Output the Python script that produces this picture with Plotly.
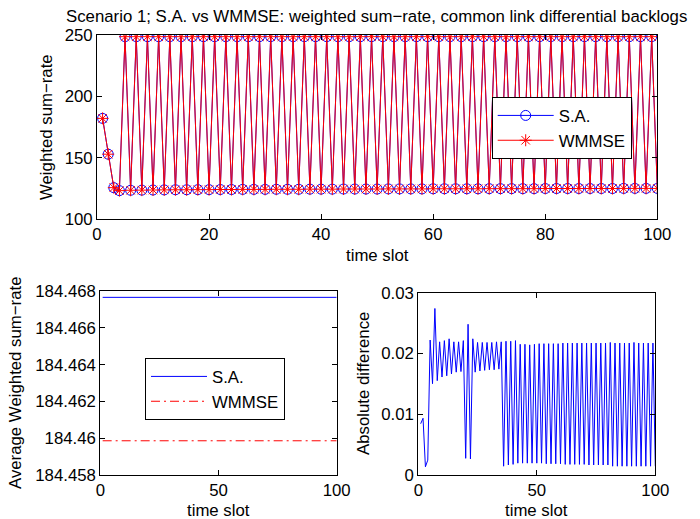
import plotly.graph_objects as go

# Time slots
slots = list(range(1, 101))

# Weighted sum-rate per time slot
sa_rate = [
    182.0, 152.9, 125.7, 123.3, 248.4, 123.6, 248.4, 123.7, 248.4, 123.8,
    248.4, 123.9, 248.4, 124.0, 248.4, 124.0, 248.4, 124.1, 248.4, 124.1,
    248.4, 124.2, 248.4, 124.2, 248.4, 124.3, 248.4, 124.3, 248.4, 124.3,
    248.4, 124.4, 248.4, 124.4, 248.4, 124.4, 248.4, 124.5, 248.4, 124.5,
    248.4, 124.5, 248.4, 124.6, 248.4, 124.6, 248.4, 124.6, 248.4, 124.6,
    248.4, 124.7, 248.4, 124.7, 248.4, 124.7, 248.4, 124.7, 248.4, 124.8,
    248.4, 124.8, 248.4, 124.8, 248.4, 124.8, 248.4, 124.8, 248.4, 124.9,
    248.4, 124.9, 248.4, 124.9, 248.4, 124.9, 248.4, 124.9, 248.4, 125.0,
    248.4, 125.0, 248.4, 125.0, 248.4, 125.0, 248.4, 125.0, 248.4, 125.0,
    248.4, 125.0, 248.4, 125.1, 248.4, 125.1, 248.4, 125.1, 248.4, 125.1,
]
wmmse_rate = [
    182.0, 152.9, 125.7, 123.3, 248.4, 123.6, 248.4, 123.7, 248.4, 123.8,
    248.4, 123.9, 248.4, 124.0, 248.4, 124.0, 248.4, 124.1, 248.4, 124.1,
    248.4, 124.2, 248.4, 124.2, 248.4, 124.3, 248.4, 124.3, 248.4, 124.3,
    248.4, 124.4, 248.4, 124.4, 248.4, 124.4, 248.4, 124.5, 248.4, 124.5,
    248.4, 124.5, 248.4, 124.6, 248.4, 124.6, 248.4, 124.6, 248.4, 124.6,
    248.4, 124.7, 248.4, 124.7, 248.4, 124.7, 248.4, 124.7, 248.4, 124.8,
    248.4, 124.8, 248.4, 124.8, 248.4, 124.8, 248.4, 124.8, 248.4, 124.9,
    248.4, 124.9, 248.4, 124.9, 248.4, 124.9, 248.4, 124.9, 248.4, 125.0,
    248.4, 125.0, 248.4, 125.0, 248.4, 125.0, 248.4, 125.0, 248.4, 125.0,
    248.4, 125.0, 248.4, 125.1, 248.4, 125.1, 248.4, 125.1, 248.4, 125.1,
]

# Time-averaged weighted sum-rate
sa_avg = 184.46767
wmmse_avg = 184.45985

# |S.A. - WMMSE| per time slot
abs_diff = [
    0.0084, 0.0093, 0.0013, 0.0024, 0.0222, 0.0150, 0.0274, 0.0155, 0.0219, 0.0161,
    0.0221, 0.0163, 0.0224, 0.0166, 0.0219, 0.0169, 0.0219, 0.0170, 0.0221, 0.0027,
    0.0248, 0.0026, 0.0224, 0.0169, 0.0218, 0.0171, 0.0218, 0.0172, 0.0218, 0.0173,
    0.0218, 0.0173, 0.0219, 0.0174, 0.0219, 0.0014, 0.0220, 0.0016, 0.0220, 0.0017,
    0.0221, 0.0019, 0.0215, 0.0019, 0.0215, 0.0019, 0.0214, 0.0019, 0.0215, 0.0019,
    0.0216, 0.0019, 0.0216, 0.0018, 0.0216, 0.0018, 0.0216, 0.0018, 0.0216, 0.0018,
    0.0217, 0.0017, 0.0217, 0.0017, 0.0217, 0.0017, 0.0217, 0.0017, 0.0217, 0.0017,
    0.0217, 0.0016, 0.0217, 0.0016, 0.0217, 0.0016, 0.0217, 0.0016, 0.0217, 0.0016,
    0.0218, 0.0014, 0.0217, 0.0014, 0.0217, 0.0014, 0.0217, 0.0014, 0.0217, 0.0014,
    0.0218, 0.0014, 0.0217, 0.0014, 0.0217, 0.0014, 0.0217, 0.0014, 0.0217, 0.0014,
]

# Axis ticks
top_x_ticks = [0, 20, 40, 60, 80, 100]
top_y_ticks = [100, 150, 200, 250]
bottom_x_ticks = [0, 50, 100]
avg_y_ticks = [184.458, 184.46, 184.462, 184.464, 184.466, 184.468]
avg_y_text = ["184.458", "184.46", "184.462", "184.464", "184.466", "184.468"]
diff_y_ticks = [0, 0.01, 0.02, 0.03]
diff_y_text = ["0", "0.01", "0.02", "0.03"]

W, H = 700, 519
FONT = "Liberation Sans, Arial, Helvetica, sans-serif"
FS = 16.8
BLUE = "rgb(0,0,255)"
RED = "rgb(255,0,0)"


def px_x(v):
    return v / W


def px_y(v):
    return 1 - v / H


fig = go.Figure()

# Top panel: per-slot weighted sum-rate
fig.add_trace(go.Scatter(
    x=slots, y=sa_rate, name="S.A.", mode="lines+markers",
    line=dict(color=BLUE, width=1),
    marker=dict(symbol="circle-open", size=10, color=BLUE, line=dict(color=BLUE, width=1)),
    xaxis="x", yaxis="y", legend="legend",
))
fig.add_trace(go.Scatter(
    x=slots, y=wmmse_rate, name="WMMSE", mode="lines+markers",
    line=dict(color=RED, width=1),
    marker=dict(symbol="asterisk-open", size=10, color=RED, line=dict(color=RED, width=1)),
    xaxis="x", yaxis="y", legend="legend",
))

# Bottom-left panel: averages
fig.add_trace(go.Scatter(
    x=slots, y=[sa_avg] * len(slots), name="S.A.", mode="lines",
    line=dict(color=BLUE, width=1),
    xaxis="x2", yaxis="y2", legend="legend2",
))
fig.add_trace(go.Scatter(
    x=slots, y=[wmmse_avg] * len(slots), name="WMMSE", mode="lines",
    line=dict(color=RED, width=1, dash="9px,4px,2px,4px"),
    xaxis="x2", yaxis="y2", legend="legend2",
))

# Bottom-right panel: absolute difference
fig.add_trace(go.Scatter(
    x=slots, y=abs_diff, mode="lines", showlegend=False,
    line=dict(color=BLUE, width=1),
    xaxis="x3", yaxis="y3",
))

axis_common = dict(
    showline=True, linecolor="black", linewidth=1, mirror="ticks",
    ticks="inside", ticklen=5, tickcolor="black", tickwidth=1,
    showgrid=False, zeroline=False,
    tickfont=dict(family=FONT, size=FS, color="black"),
)

legend_common = dict(
    xanchor="left", yanchor="top",
    bgcolor="white", bordercolor="black", borderwidth=1,
    font=dict(family=FONT, size=FS, color="black"),
    tracegroupgap=0, itemwidth=56,
)

fig.update_layout(
    width=W, height=H,
    margin=dict(l=0, r=0, t=0, b=0, autoexpand=False),
    paper_bgcolor="white", plot_bgcolor="white",
    font=dict(family=FONT, size=FS, color="black"),
    xaxis=dict(domain=[px_x(97), px_x(657.3)], range=[0, 100], tickvals=top_x_ticks,
               anchor="y", **axis_common),
    yaxis=dict(domain=[px_y(219.3), px_y(34.7)], range=[100, 250], tickvals=top_y_ticks,
               anchor="x", **axis_common),
    xaxis2=dict(domain=[px_x(100.3), px_x(336.7)], range=[0, 100], tickvals=bottom_x_ticks,
                anchor="y2", **axis_common),
    yaxis2=dict(domain=[px_y(474.7), px_y(291.3)], range=[184.458, 184.468],
                tickvals=avg_y_ticks, ticktext=avg_y_text, anchor="x2", **axis_common),
    xaxis3=dict(domain=[px_x(418.3), px_x(655.3)], range=[0, 100], tickvals=bottom_x_ticks,
                anchor="y3", **axis_common),
    yaxis3=dict(domain=[px_y(474.7), px_y(292.7)], range=[0, 0.03],
                tickvals=diff_y_ticks, ticktext=diff_y_text, anchor="x3", **axis_common),
    legend=dict(x=px_x(491.7), y=px_y(97), **legend_common),
    legend2=dict(x=px_x(145), y=px_y(358), **legend_common),
    showlegend=True,
)

# Title and axis titles
text_items = [
    dict(text="Scenario 1; S.A. vs WMMSE: weighted sum\u2212rate, common link differential backlogs",
         x=px_x(376), y=px_y(17), angle=0),
    dict(text="time slot", x=px_x(377), y=px_y(255), angle=0),
    dict(text="Weighted sum\u2212rate", x=px_x(46), y=px_y(127), angle=-90),
    dict(text="time slot", x=px_x(218.5), y=px_y(510), angle=0),
    dict(text="Average Weighted sum\u2212rate", x=px_x(15), y=px_y(383), angle=-90),
    dict(text="time slot", x=px_x(536.7), y=px_y(510), angle=0),
    dict(text="Absolute difference", x=px_x(363), y=px_y(384), angle=-90),
]
for item in text_items:
    fig.add_annotation(
        text=item["text"], x=item["x"], y=item["y"], xref="paper", yref="paper",
        xanchor="center", yanchor="middle", textangle=item["angle"],
        showarrow=False, font=dict(family=FONT, size=FS, color="black"),
    )

fig.write_html("out.html")
